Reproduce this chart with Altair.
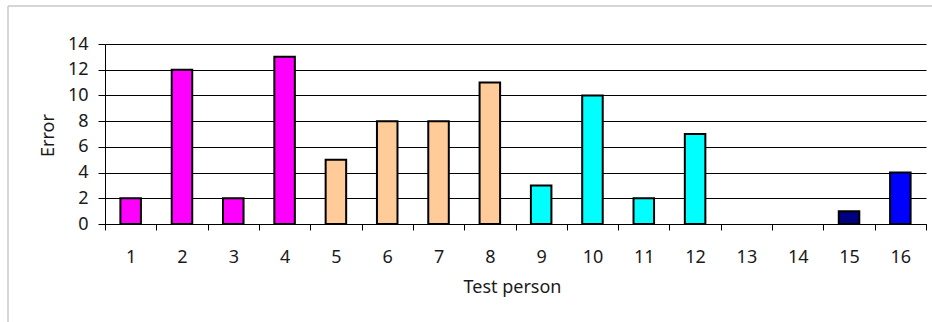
import altair as alt
import pandas as pd

# Errors made by each test person, with the group each person belongs to
persons = ["1", "2", "3", "4", "5", "6", "7", "8",
           "9", "10", "11", "12", "13", "14", "15", "16"]
errors = [2, 12, 2, 13, 5, 8, 8, 11, 3, 10, 2, 7, 0, 0, 1, 4]
groups = ["A", "A", "A", "A", "B", "B", "B", "B",
          "C", "C", "C", "C", "D", "D", "D", "E"]

group_names = ["A", "B", "C", "D", "E"]
group_colors = ["#FF00FF", "#FFCC99", "#00FFFF", "#000080", "#0000FF"]
y_ticks = [0, 2, 4, 6, 8, 10, 12, 14]

df = pd.DataFrame({"person": persons, "errors": errors, "group": groups})

FONT = "Noto Sans"
TEXT = "#1a1a1a"

bars = alt.Chart(df).mark_bar(
    stroke="black", width=alt.RelativeBandSize(0.4)
).encode(
    x=alt.X(
        "person:N",
        sort=persons,
        scale=alt.Scale(paddingInner=0, paddingOuter=0),
        axis=alt.Axis(
            title="Test person",
            labelAngle=0,
            tickBand="extent",
            tickSize=6,
            tickColor="black",
            domainColor="black",
            grid=False,
            labelFont=FONT,
            labelFontSize=18,
            labelColor=TEXT,
            labelBaseline="alphabetic",
            labelPadding=32,
            titleFont=FONT,
            titleFontSize=18,
            titleFontWeight="normal",
            titleColor=TEXT,
            titleBaseline="alphabetic",
            titleX=407,
            titleY=68,
        ),
    ),
    y=alt.Y(
        "errors:Q",
        scale=alt.Scale(domain=[0, 14], nice=False),
        axis=alt.Axis(
            title="Error",
            values=y_ticks,
            tickSize=7,
            tickColor="black",
            domainColor="black",
            grid=True,
            gridColor="black",
            gridWidth=1,
            labelFont=FONT,
            labelFontSize=18,
            labelColor=TEXT,
            labelPadding=10,
            titleFont=FONT,
            titleFontSize=18,
            titleFontWeight="normal",
            titleColor=TEXT,
            titleAngle=270,
            titleAlign="center",
            titleBaseline="alphabetic",
            titleX=-52,
            titleY=91,
        ),
    ),
    color=alt.Color(
        "group:N",
        scale=alt.Scale(domain=group_names, range=group_colors),
        legend=None,
    ),
    strokeWidth=alt.condition(alt.datum.errors > 0, alt.value(2), alt.value(0)),
)

# Light frame around the chart area
frame_src = alt.Chart(pd.DataFrame({"k": [0]}))
frame_left = frame_src.mark_rule(color="#c8c8c8", strokeWidth=1.5).encode(
    x=alt.value(-97), y=alt.value(-38), y2=alt.value(320)
)
frame_top = frame_src.mark_rule(color="#c8c8c8", strokeWidth=1.5).encode(
    x=alt.value(-97), x2=alt.value(840), y=alt.value(-38)
)

chart = alt.layer(bars, frame_left, frame_top).properties(
    width=821,
    height=180,
    autosize=alt.AutoSizeParams(type="none"),
    padding={"left": 105, "top": 44, "right": 6, "bottom": 98},
    background="white",
).configure_view(stroke=None)

chart.save("out.html", embed_options={"renderer": "svg", "actions": False})
